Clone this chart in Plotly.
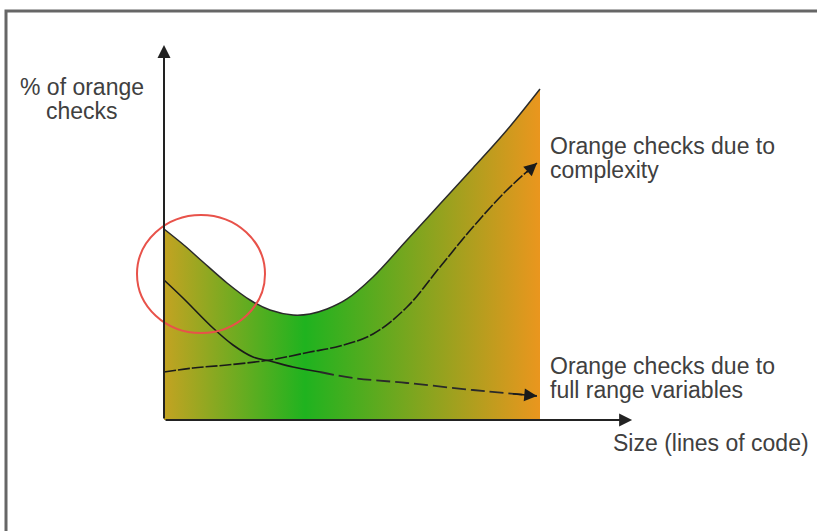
import plotly.graph_objects as go

# ---- data (abstract units: size on x, % of orange checks on y) ----
envelope_x = [0.0, 0.559, 1.037, 1.676, 2.287, 2.819, 3.431, 3.883, 4.335, 4.867,
              5.559, 6.463, 7.340, 8.218, 9.122, 10.0]
envelope_y = [5.770, 5.257, 4.773, 4.139, 3.625, 3.323, 3.172, 3.202, 3.353, 3.656,
              4.320, 5.438, 6.526, 7.613, 8.761, 10.0]

fullrange_x = [0.0, 0.505, 1.303, 1.835, 2.367, 2.819, 3.431, 4.149, 5.027, 6.463, 8.218, 9.920]
fullrange_y = [4.230, 3.686, 2.779, 2.266, 1.903, 1.782, 1.601, 1.450, 1.269, 1.118, 0.906, 0.725]

complexity_x = [0.0, 0.771, 1.676, 2.819, 3.883, 4.681, 5.559, 6.463, 7.340, 8.218, 9.122, 9.920]
complexity_y = [1.450, 1.571, 1.662, 1.813, 2.054, 2.236, 2.598, 3.414, 4.622, 5.831, 6.949, 7.764]

axis_x_end = 12.45
axis_y_end = 11.33

label_yaxis = ["% of orange", "checks"]
label_complexity = ["Orange checks due to", "complexity"]
label_fullrange = ["Orange checks due to", "full range variables"]
label_xaxis = "Size (lines of code)"

# ---- layout geometry ----
W, H = 817, 531
PX_X, PX_Y = 37.6, 33.1      # pixels per unit
X0_PX, Y0_PX = 164, 420      # pixel position of origin
xrange = [-X0_PX / PX_X, (W - X0_PX) / PX_X]
yrange = [(Y0_PX - H) / PX_Y, Y0_PX / PX_Y]

def px(x):
    return x / W

def py(y):
    return 1 - y / H

FONT = dict(family="Liberation Sans, Arial, sans-serif", size=23, color="#404040")
LINE = "#1a1a1a"

fig = go.Figure()

# gradient-filled envelope
fig.add_trace(go.Scatter(
    x=envelope_x, y=envelope_y, mode="lines",
    line=dict(color="#2a2a2a", width=1.5, shape="spline", smoothing=1.0),
    fill="tozeroy",
    fillgradient=dict(type="horizontal", start=0, stop=10,
                      colorscale=[[0, "#c3a322"], [0.375, "#1fb31f"], [1, "#ea961e"]]),
    hoverinfo="skip", showlegend=False))

# full range variables curve: solid then dashed
k = 7
fig.add_trace(go.Scatter(x=fullrange_x[:k + 1], y=fullrange_y[:k + 1], mode="lines",
                         line=dict(color=LINE, width=1.6, shape="spline"),
                         hoverinfo="skip", showlegend=False))
fig.add_trace(go.Scatter(x=fullrange_x[k:], y=fullrange_y[k:], mode="lines",
                         line=dict(color="#2a2a2a", width=1.8, shape="spline", dash="14px,5px"),
                         hoverinfo="skip", showlegend=False))

# complexity curve: one smooth, finely dashed line
fig.add_trace(go.Scatter(x=complexity_x, y=complexity_y, mode="lines",
                         line=dict(color=LINE, width=1.6, shape="spline", smoothing=1.0,
                                   dash="12px,2px"),
                         hoverinfo="skip", showlegend=False))

annotations = []
# curve arrowheads
for xs, ys in [(fullrange_x, fullrange_y), (complexity_x, complexity_y)]:
    annotations.append(dict(x=xs[-1], y=ys[-1], ax=xs[-1] - (xs[-1] - xs[-2]) * 0.4,
                            ay=ys[-1] - (ys[-1] - ys[-2]) * 0.4,
                            xref="x", yref="y", axref="x", ayref="y", text="",
                            showarrow=True, arrowhead=2, arrowsize=1.7, arrowwidth=1.5,
                            arrowcolor=LINE, standoff=0))
# axes with arrows
annotations.append(dict(x=0, y=axis_y_end, ax=0, ay=0, xref="x", yref="y", axref="x", ayref="y",
                        text="", showarrow=True, arrowhead=2, arrowsize=1.3, arrowwidth=2,
                        arrowcolor="#222", standoff=0))
annotations.append(dict(x=axis_x_end, y=0, ax=0, ay=0, xref="x", yref="y", axref="x", ayref="y",
                        text="", showarrow=True, arrowhead=2, arrowsize=1.3, arrowwidth=2,
                        arrowcolor="#222", standoff=0))

def label(text, xpx, ypx, anchor="left"):
    annotations.append(dict(x=px(xpx), y=py(ypx), xref="paper", yref="paper", text=text,
                            showarrow=False, xanchor=anchor, yanchor="middle", font=FONT))

label(label_yaxis[0], 82, 86.5, "center")
label(label_yaxis[1], 82, 110.5, "center")
label(label_complexity[0], 548, 146)
label(label_complexity[1], 548, 170)
label(label_fullrange[0], 548, 366)
label(label_fullrange[1], 548, 390)
label(label_xaxis, 611, 443)

shapes = [
    # outer frame (right/bottom edges beyond view)
    dict(type="rect", xref="paper", yref="paper", x0=px(6), x1=px(W + 20), y0=py(H + 20), y1=py(11),
         line=dict(color="#666", width=3), layer="below"),
    # red circle
    dict(type="circle", xref="x", yref="y",
         x0=(137 - X0_PX) / PX_X, x1=(265 - X0_PX) / PX_X,
         y0=(Y0_PX - 333) / PX_Y, y1=(Y0_PX - 215) / PX_Y,
         line=dict(color="#e8524a", width=2)),
]

fig.update_layout(
    width=W, height=H, margin=dict(l=0, r=0, t=0, b=0, pad=0),
    paper_bgcolor="white", plot_bgcolor="white",
    xaxis=dict(range=xrange, visible=False, fixedrange=True),
    yaxis=dict(range=yrange, visible=False, fixedrange=True),
    annotations=annotations, shapes=shapes, showlegend=False,
)

fig.write_html("out.html", config={"displayModeBar": False},
               post_script="document.body.style.margin='0';document.body.style.overflow='hidden';")
